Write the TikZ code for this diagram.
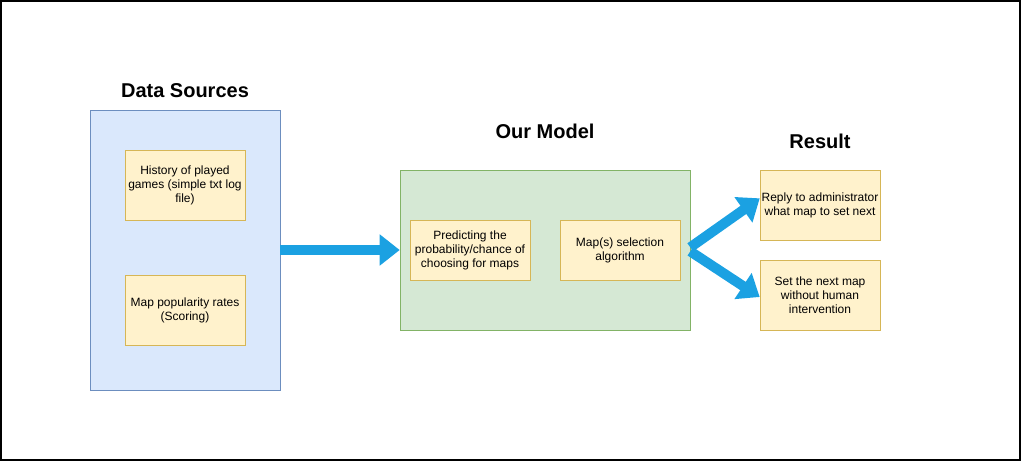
\documentclass[tikz,border=0pt]{standalone}
\usepackage{fontspec}
\setmainfont{Liberation Sans}
\usetikzlibrary{arrows.meta}
\definecolor{srcfill}{HTML}{DAE8FC}
\definecolor{srcline}{HTML}{6C8EBF}
\definecolor{modfill}{HTML}{D5E8D4}
\definecolor{modline}{HTML}{82B366}
\definecolor{boxfill}{HTML}{FFF2CC}
\definecolor{boxline}{HTML}{D6B656}
\definecolor{arrowblue}{HTML}{1BA1E2}
\newcommand{\boxw}{90pt}
\newcommand{\boxh}{52.5pt}
\newcommand{\shaft}{7.5pt}

\begin{document}
\begin{tikzpicture}[x=0.75pt,y=-0.75pt,
  stepbox/.style={draw=boxline,fill=boxfill,minimum width=\boxw,minimum height=\boxh,align=center,inner sep=1pt,font=\fontsize{9}{10.5}\selectfont},
  title/.style={font=\fontsize{15}{18}\selectfont\bfseries},
  bigarrow/.style={arrowblue,line width=\shaft,-{Triangle[length=15pt,width=22.5pt]}}]
\useasboundingbox (0,0) rectangle (1021,461);
\draw[line width=1.5pt] (0.5,0.5) rectangle (1020,460);
%sources
\node[draw=srcline,fill=srcfill,minimum width=142.5pt,minimum height=210pt] (src) at (185,250) {};
\node[title] (srctitle) at (185,91) {Data Sources};
\node[stepbox] (hist) at (185,185) {History of played\\games (simple txt log\\file)};
\node[stepbox] (pop) at (185,310) {Map popularity rates\\(Scoring)};
%model
\node[draw=modline,fill=modfill,minimum width=217.5pt,minimum height=120pt] (model) at (545,250) {};
\node[title] (modtitle) at (545,131) {Our Model};
\node[stepbox,minimum height=45pt] (pred) at (470,250) {Predicting the\\probability/chance of\\choosing for maps};
\node[stepbox,minimum height=45pt] (algo) at (620,250) {Map(s) selection\\algorithm};
%result
\node[title] (restitle) at (820,141) {Result};
\node[stepbox] (reply) at (820,205) {Reply to administrator\\what map to set next};
\node[stepbox] (setmap) at (820,295) {Set the next map\\without human\\intervention};
%arrows
\draw[bigarrow] (src.east) -- (model.west);
\draw[bigarrow] ([yshift=2pt]model.east) -- ([yshift=5pt]reply.west);
\draw[bigarrow] ([yshift=-1pt]model.east) -- ([yshift=-1.5pt]setmap.west);
\end{tikzpicture}
\end{document}
